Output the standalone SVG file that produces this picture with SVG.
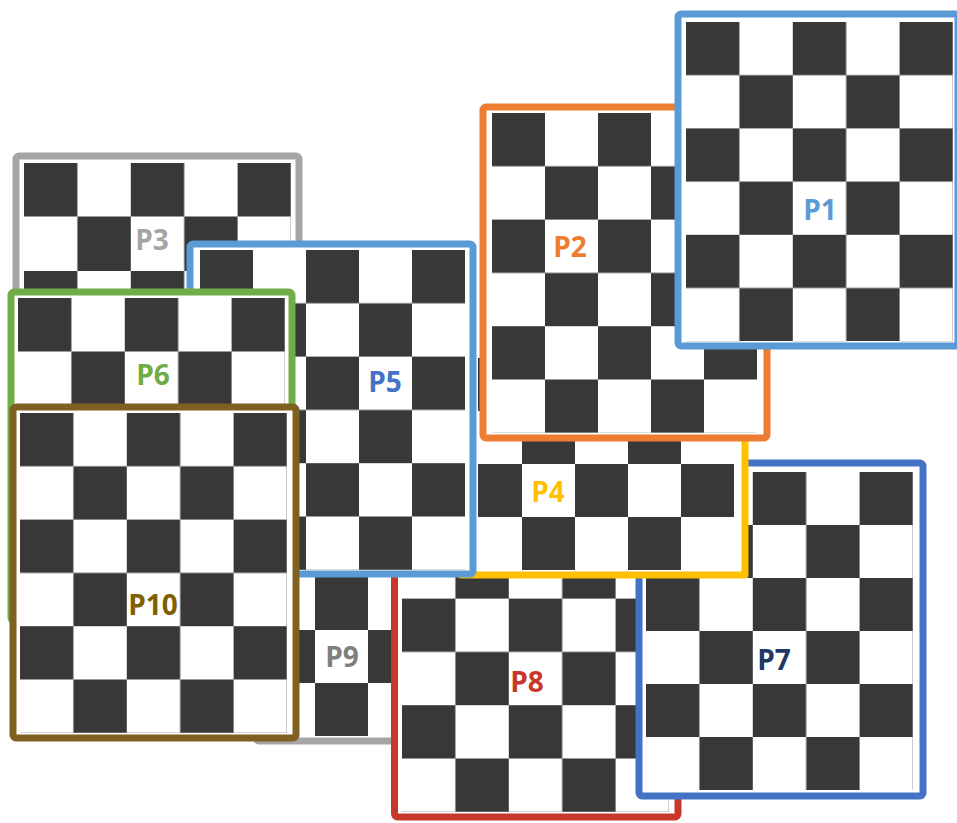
<svg xmlns="http://www.w3.org/2000/svg" width="957" height="823" viewBox="0 0 957 823">
<style>
.bd{fill:#fff;stroke-width:7}
.lb{font-family:"Open Sans","Liberation Sans",sans-serif;font-weight:700;font-size:28px;text-anchor:middle}
.dk{fill:#383838}
</style>
<defs>
<pattern id="c1" patternUnits="userSpaceOnUse" x="686" y="22" width="106.8" height="106.4"><rect class="dk" width="53.4" height="53.2"/><rect class="dk" x="53.4" y="53.2" width="53.4" height="53.2"/></pattern>
<pattern id="c2" patternUnits="userSpaceOnUse" x="492" y="113" width="106" height="106.6"><rect class="dk" width="53" height="53.3"/><rect class="dk" x="53" y="53.3" width="53" height="53.3"/></pattern>
<pattern id="c3" patternUnits="userSpaceOnUse" x="24" y="163" width="106.8" height="107"><rect class="dk" width="53.4" height="53.5"/><rect class="dk" x="53.4" y="53.5" width="53.4" height="53.5"/></pattern>
<pattern id="c4" patternUnits="userSpaceOnUse" x="469" y="252" width="106" height="106"><rect class="dk" width="53" height="53"/><rect class="dk" x="53" y="53" width="53" height="53"/></pattern>
<pattern id="c5" patternUnits="userSpaceOnUse" x="200" y="250" width="106" height="106.6"><rect class="dk" width="53" height="53.3"/><rect class="dk" x="53" y="53.3" width="53" height="53.3"/></pattern>
<pattern id="c6" patternUnits="userSpaceOnUse" x="18" y="298" width="106.8" height="107"><rect class="dk" width="53.4" height="53.5"/><rect class="dk" x="53.4" y="53.5" width="53.4" height="53.5"/></pattern>
<pattern id="c7" patternUnits="userSpaceOnUse" x="646" y="472" width="106.8" height="106"><rect class="dk" width="53.4" height="53"/><rect class="dk" x="53.4" y="53" width="53.4" height="53"/></pattern>
<pattern id="c8" patternUnits="userSpaceOnUse" x="402" y="492" width="106.8" height="106.6"><rect class="dk" width="53.4" height="53.3"/><rect class="dk" x="53.4" y="53.3" width="53.4" height="53.3"/></pattern>
<pattern id="c9" patternUnits="userSpaceOnUse" x="262" y="418" width="106" height="106"><rect class="dk" width="53" height="53"/><rect class="dk" x="53" y="53" width="53" height="53"/></pattern>
<pattern id="c10" patternUnits="userSpaceOnUse" x="20" y="413" width="106.8" height="106.6"><rect class="dk" width="53.4" height="53.3"/><rect class="dk" x="53.4" y="53.3" width="53.4" height="53.3"/></pattern>
</defs>
<rect width="957" height="823" fill="#fff"/>
<g id="P3">
<rect class="bd" x="16" y="156" width="283" height="334" rx="3" stroke="#A5A5A5"/>
<rect x="24" y="163" width="267" height="321" fill="url(#c3)"/>
<text class="lb" x="152" y="250" fill="#A5A5A5">P3</text>
</g>
<g id="P9">
<rect class="bd" x="256" y="411" width="278" height="330" rx="3" stroke="#A5A5A5"/>
<rect x="262" y="418" width="265" height="318" fill="url(#c9)"/>
<text class="lb" x="342" y="667" fill="#7F7F7F">P9</text>
</g>
<g id="P8">
<rect class="bd" x="394.5" y="484" width="283.5" height="333" rx="3" stroke="#C8382A"/>
<rect x="402" y="492" width="267" height="320" fill="url(#c8)"/>
<text class="lb" x="527" y="692" fill="#C8382A">P8</text>
</g>
<g id="P7">
<rect class="bd" x="639" y="463" width="284" height="333" rx="3" stroke="#4472C4"/>
<rect x="646" y="472" width="267" height="318" fill="url(#c7)"/>
<text class="lb" x="774" y="670" fill="#203864">P7</text>
</g>
<g id="P4">
<rect x="461" y="300" width="284" height="275" fill="#fff"/>
<rect x="478" y="305" width="256" height="265" fill="url(#c4)"/>
<path d="M461,300 V575 H745 V300" fill="none" stroke="#FFC000" stroke-width="7" stroke-linejoin="round"/>
<text class="lb" x="548" y="502" fill="#FFC000">P4</text>
</g>
<g id="P2">
<rect class="bd" x="483" y="107" width="284" height="331" rx="3" stroke="#ED7D31"/>
<rect x="492" y="113" width="265" height="319.8" fill="url(#c2)"/>
<text class="lb" x="570" y="257" fill="#ED7D31">P2</text>
</g>
<g id="P1">
<rect class="bd" x="678" y="14" width="280" height="332" rx="3" stroke="#5B9BD5"/>
<rect x="686" y="22" width="267" height="319.2" fill="url(#c1)"/>
<text class="lb" x="820" y="220" fill="#5B9BD5">P1</text>
</g>
<g id="P5">
<rect class="bd" x="190" y="244" width="283" height="330" rx="3" stroke="#5B9BD5"/>
<rect x="200" y="250" width="265" height="320" fill="url(#c5)"/>
<text class="lb" x="385" y="392" fill="#4472C4">P5</text>
</g>
<g id="P6">
<rect class="bd" x="11" y="292" width="281" height="329" rx="3" stroke="#70AD47"/>
<rect x="18" y="298" width="267" height="321" fill="url(#c6)"/>
<text class="lb" x="153" y="385" fill="#70AD47">P6</text>
</g>
<g id="P10">
<rect class="bd" x="13" y="407" width="283" height="331" rx="3" stroke="#7F6020"/>
<rect x="20" y="413" width="267" height="320" fill="url(#c10)"/>
<text class="lb" x="153" y="615" fill="#7F6000">P10</text>
</g>
<g id="connectors"/>
</svg>
